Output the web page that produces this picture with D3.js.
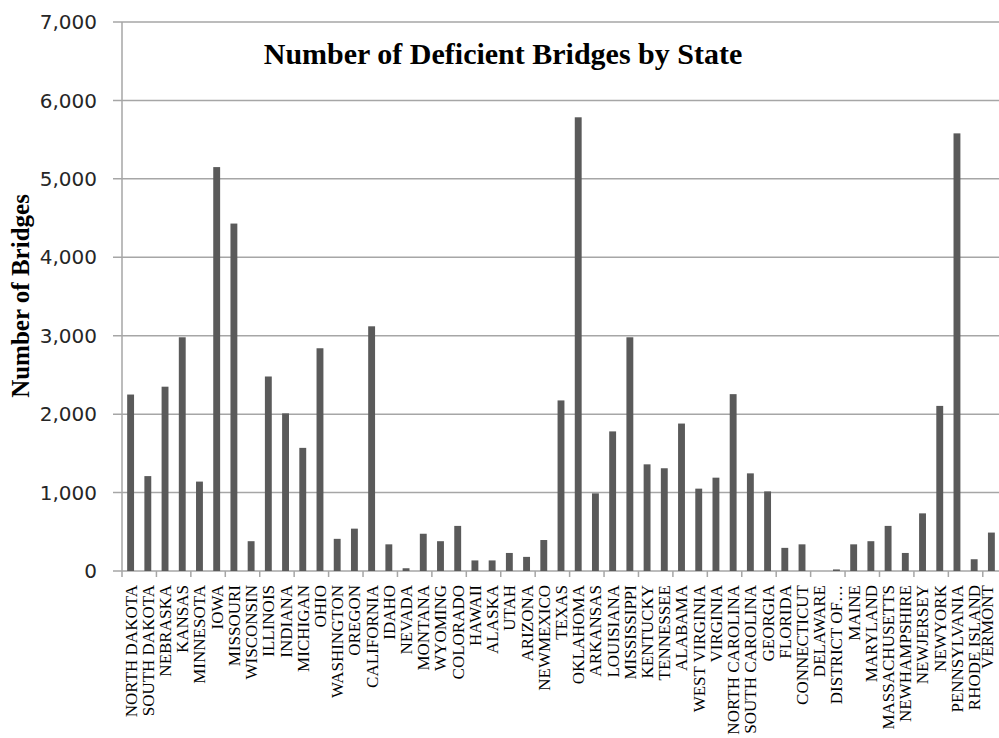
<!DOCTYPE html>
<html lang="en">
<head>
  <meta charset="UTF-8">
  <title>Number of Deficient Bridges by State</title>
  <script src="https://cdn.jsdelivr.net/npm/d3@7/dist/d3.min.js"></script>
<style>
  body { margin: 0; background: #fff; }
  svg { display: block; }
</style>
</head>
<body>
  <script>
    var states = ['NORTH DAKOTA', 'SOUTH DAKOTA', 'NEBRASKA', 'KANSAS', 'MINNESOTA', 'IOWA',
      'MISSOURI', 'WISCONSIN', 'ILLINOIS', 'INDIANA', 'MICHIGAN', 'OHIO', 'WASHINGTON',
      'OREGON', 'CALIFORNIA', 'IDAHO', 'NEVADA', 'MONTANA', 'WYOMING', 'COLORADO', 'HAWAII',
      'ALASKA', 'UTAH', 'ARIZONA', 'NEWMEXICO', 'TEXAS', 'OKLAHOMA', 'ARKANSAS', 'LOUISIANA',
      'MISSISSIPPI', 'KENTUCKY', 'TENNESSEE', 'ALABAMA', 'WEST VIRGINIA', 'VIRGINIA',
      'NORTH CAROLINA', 'SOUTH CAROLINA', 'GEORGIA', 'FLORIDA', 'CONNECTICUT', 'DELAWARE',
      'DISTRICT OF…', 'MAINE', 'MARYLAND', 'MASSACHUSETTS', 'NEWHAMPSHIRE', 'NEWJERSEY',
      'NEWYORK', 'PENNSYLVANIA', 'RHODE ISLAND', 'VERMONT'];

    var bridges = [2250, 1210, 2350, 2980, 1140, 5150,
      4430, 380, 2480, 2010, 1570, 2840, 410,
      540, 3120, 340, 35, 475, 380, 575, 135,
      135, 230, 180, 395, 2175, 5785, 990, 1780,
      2980, 1360, 1310, 1880, 1050, 1190,
      2255, 1245, 1015, 295, 340, 0,
      20, 340, 380, 575, 230, 735,
      2105, 5580, 150, 490];

    var yTicks = [0, 1000, 2000, 3000, 4000, 5000, 6000, 7000];

    var w = 999;
    var h = 738;
    // plot box (avoid "top", it is a window global)
    var plotL = 122, plotR = 1000, plotT = 22, plotB = 571;

    var svg = d3.select('body')
                .append('svg')
                .attr('width', w)
                .attr('height', h);

    var x = d3.scaleBand()
      .domain(states)
      .range([plotL, plotR])
      .paddingInner(0.6)
      .paddingOuter(0.3);

    var y = d3.scaleLinear()
      .domain([0, 7000])
      .range([plotB, plotT]);

    // gridlines + y ticks
    svg.append('g')
      .selectAll('line')
      .data(yTicks)
      .enter()
      .append('line')
      .attr('x1', plotL - 9)
      .attr('x2', plotR)
      .attr('y1', d => y(d))
      .attr('y2', d => y(d))
      .attr('stroke', '#a6a6a6')
      .attr('stroke-width', 1.5);

    svg.append('g')
      .selectAll('text')
      .data(yTicks)
      .enter()
      .append('text')
      .text(d => d3.format(',')(d))
      .attr('x', 97)
      .attr('y', d => y(d))
      .attr('dy', '0.36em')
      .attr('text-anchor', 'end')
      .attr('font-family', 'DejaVu Sans, sans-serif')
      .attr('font-size', '20px')
      .attr('fill', '#262626');

    // bars
    svg.append('g')
      .selectAll('rect')
      .data(bridges)
      .enter()
      .append('rect')
      .attr('x', (d, i) => x(states[i]))
      .attr('y', d => y(d))
      .attr('width', x.bandwidth())
      .attr('height', d => plotB - y(d))
      .attr('fill', '#5a5a5a');

    // axis lines
    svg.append('line')
      .attr('x1', plotL).attr('x2', plotL)
      .attr('y1', plotT).attr('y2', plotB)
      .attr('stroke', '#a6a6a6').attr('stroke-width', 1.5);

    var step = x.step();
    var xTicks = d3.range(0, states.length + 1, 2);
    svg.append('g')
      .selectAll('line')
      .data(xTicks)
      .enter()
      .append('line')
      .attr('x1', d => plotL + d * step)
      .attr('x2', d => plotL + d * step)
      .attr('y1', plotB)
      .attr('y2', plotB + 6)
      .attr('stroke', '#a6a6a6')
      .attr('stroke-width', 1.5);

    // category labels, rotated (last one nudged in so it stays on the page)
    svg.append('g')
      .selectAll('text')
      .data(states)
      .enter()
      .append('text')
      .text(d => d)
      .attr('transform', d => 'translate(' + Math.min(x(d) + x.bandwidth() / 2, 987) + ',' + 585 + ') rotate(-90)')
      .attr('dy', '0.35em')
      .attr('text-anchor', 'end')
      .attr('font-family', 'Liberation Serif, serif')
      .attr('font-size', '17px')
      .attr('fill', '#000');

    // title
    svg.append('text')
      .text('Number of Deficient Bridges by State')
      .attr('x', 503)
      .attr('y', 64)
      .attr('text-anchor', 'middle')
      .attr('font-family', 'Liberation Serif, serif')
      .attr('font-weight', 'bold')
      .attr('font-size', '30px');

    // y axis title
    svg.append('text')
      .text('Number of Bridges')
      .attr('transform', 'translate(20,296) rotate(-90)')
      .attr('dy', '0.35em')
      .attr('text-anchor', 'middle')
      .attr('font-family', 'Liberation Serif, serif')
      .attr('font-weight', 'bold')
      .attr('font-size', '25px');
  </script>
</body>
</html>
